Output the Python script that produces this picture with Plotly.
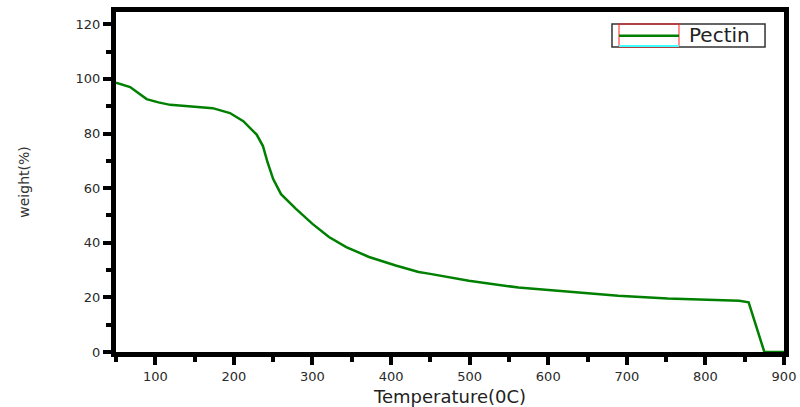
import plotly.graph_objects as go

temperature = [50, 68, 89, 104, 119, 148, 173, 195, 212, 229, 237, 243, 250, 260, 279, 300, 321, 343, 372, 406, 435, 448, 499, 562, 625, 689, 752, 815, 843, 855, 875, 900]
weight = [98.6, 97.0, 92.6, 91.4, 90.5, 89.9, 89.3, 87.5, 84.5, 79.6, 75.4, 69.3, 63.3, 57.8, 52.4, 46.9, 42.1, 38.4, 34.8, 31.7, 29.3, 28.7, 26.1, 23.6, 22.1, 20.6, 19.6, 18.9, 18.8, 18.2, 0.0, 0.0]

x_ticks = [100, 200, 300, 400, 500, 600, 700, 800, 900]
y_ticks = [0, 20, 40, 60, 80, 100, 120]
series_name = "Pectin"

fig = go.Figure()
fig.add_trace(go.Scatter(x=temperature, y=weight, mode="lines", name=series_name,
                         line=dict(color="#008000", width=2.5), showlegend=False,
                         cliponaxis=False))

tickfont = dict(family="DejaVu Sans", size=13, color="#2a2a2a")
fig.update_layout(
    width=800, height=407,
    margin=dict(l=116, r=16, t=12, b=55),
    paper_bgcolor="white", plot_bgcolor="white",
    showlegend=False,
    xaxis=dict(range=[50, 900], tickvals=x_ticks, showgrid=False, zeroline=False,
               showline=True, linecolor="black", linewidth=5, mirror=True,
               ticks="outside", ticklen=8, tickwidth=4, tickcolor="black",
               minor=dict(dtick=100, tick0=50, ticks="outside", ticklen=5, tickwidth=4, tickcolor="black"),
               tickfont=tickfont, automargin=False,
               title=dict(text="Temperature(0C)", font=dict(family="DejaVu Sans", size=18, color="#222222"), standoff=9)),
    yaxis=dict(range=[0, 124.5], tickvals=y_ticks, showgrid=False, zeroline=False,
               showline=True, linecolor="black", linewidth=5, mirror=True,
               ticks="outside", ticklen=8, tickwidth=4, tickcolor="black",
               minor=dict(dtick=10, tick0=0, ticks="outside", ticklen=5, tickwidth=4, tickcolor="black"),
               tickfont=tickfont, automargin=False,
               title=dict(text="weight(%)", font=dict(family="DejaVu Sans", size=14, color="#333333"), standoff=44)),
)

# legend box drawn like the original (paper coordinates)
fig.add_shape(type="rect", xref="paper", yref="paper", x0=0.7425, x1=0.9716, y0=0.897, y1=0.9647,
              line=dict(color="#333333", width=1.5), fillcolor="white", layer="above")
fig.add_shape(type="rect", xref="paper", yref="paper", x0=0.753, x1=0.8428, y0=0.897, y1=0.9647,
              line=dict(color="#ff2020", width=1), layer="above")
fig.add_shape(type="line", xref="paper", yref="paper", x0=0.753, x1=0.8428, y0=0.9, y1=0.9,
              line=dict(color="#40ffff", width=2), layer="above")
fig.add_shape(type="line", xref="paper", yref="paper", x0=0.753, x1=0.8428, y0=0.9303, y1=0.9303,
              line=dict(color="#008000", width=2.5), layer="above")
fig.add_annotation(xref="paper", yref="paper", x=0.8548, y=0.931, xanchor="left", yanchor="middle",
                   text=series_name, showarrow=False,
                   font=dict(family="DejaVu Sans", size=20, color="#222222"))

fig.write_html("out.html", config={"displayModeBar": False},
               post_script="document.body.style.margin='0';document.body.style.overflow='hidden';")
